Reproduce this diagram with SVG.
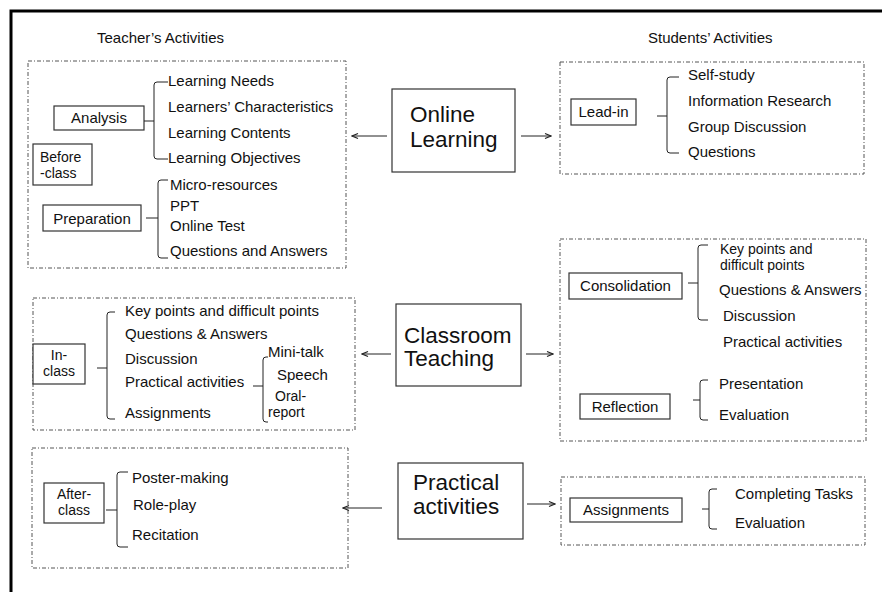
<svg xmlns="http://www.w3.org/2000/svg" width="882" height="592" viewBox="0 0 882 592">
  <style>
    text { font-family: "Liberation Sans", Arial, sans-serif; fill: #111; }
    .t { font-size: 15px; }
    .s { font-size: 14px; }
    .big { font-size: 22.5px; }
    .zone { fill: none; stroke: #555; stroke-width: 1; stroke-dasharray: 4 2 1 2; }
    .box { fill: #fff; stroke: #333; stroke-width: 1.2; }
    .brace { fill: none; stroke: #222; stroke-width: 1; }
    .edge { fill: none; stroke: #222; stroke-width: 1; marker-end: url(#arrow); }
    .frame { fill: none; stroke: #000; stroke-width: 3; }
  </style>
  <defs>
    <marker id="arrow" viewBox="0 0 8 8" refX="7" refY="4" markerWidth="8" markerHeight="8" markerUnits="userSpaceOnUse" orient="auto">
      <path d="M1,1.5 L7,4 L1,6.5" fill="none" stroke="#222" stroke-width="1.2"/>
    </marker>
  </defs>
  <rect width="882" height="592" fill="#fff"/>

  <!-- outer frame (top and left edges) -->
  <path class="frame" d="M11,592 V11 H882"/>

  <!-- column headings -->
  <text class="t" x="97" y="43">Teacher’s Activities</text>
  <text class="t" x="648" y="43">Students’ Activities</text>

  <!-- teacher: before-class -->
  <g id="before-class">
    <rect class="zone" x="28" y="61" width="318" height="207"/>
    <rect class="box" x="33" y="144" width="59" height="41"/>
    <text class="s" x="40" y="162">Before</text>
    <text class="s" x="40" y="178">-class</text>
    <rect class="box" x="54" y="106" width="90" height="24"/>
    <text class="t" x="99" y="123" text-anchor="middle">Analysis</text>
    <path class="brace" d="M144,121 H154 M168,82 H157 Q154,82 154,85 V156 Q154,159 157,159 H168"/>
    <text class="t" x="168" y="86">Learning Needs</text>
    <text class="t" x="168" y="112">Learners’ Characteristics</text>
    <text class="t" x="168" y="138">Learning Contents</text>
    <text class="t" x="168" y="163">Learning Objectives</text>
    <rect class="box" x="43" y="205" width="98" height="26"/>
    <text class="t" x="92" y="224" text-anchor="middle">Preparation</text>
    <path class="brace" d="M146,218 H158 M168,180 H161 Q158,180 158,183 V255 Q158,258 161,258 H168"/>
    <text class="t" x="170" y="190">Micro-resources</text>
    <text class="t" x="170" y="211">PPT</text>
    <text class="t" x="170" y="231">Online Test</text>
    <text class="t" x="170" y="256">Questions and Answers</text>
  </g>

  <!-- centre: online learning -->
  <g id="online-learning">
    <rect class="box" x="392" y="89" width="123" height="83"/>
    <text class="big" x="410" y="122">Online</text>
    <text class="big" x="410" y="147">Learning</text>
  </g>

  <!-- students: lead-in -->
  <g id="lead-in">
    <rect class="zone" x="560" y="62" width="304" height="112"/>
    <rect class="box" x="571" y="99" width="65" height="26"/>
    <text class="t" x="603.5" y="117" text-anchor="middle">Lead-in</text>
    <path class="brace" d="M657,116 H667 M679,77 H670 Q667,77 667,80 V150 Q667,153 670,153 H679"/>
    <text class="t" x="688" y="80">Self-study</text>
    <text class="t" x="688" y="106">Information Research</text>
    <text class="t" x="688" y="132">Group Discussion</text>
    <text class="t" x="688" y="157">Questions</text>
  </g>

  <!-- teacher: in-class -->
  <g id="in-class">
    <rect class="zone" x="33" y="298" width="322" height="132"/>
    <rect class="box" x="33" y="344" width="52" height="40"/>
    <text class="s" x="59" y="360" text-anchor="middle">In-</text>
    <text class="s" x="59" y="376" text-anchor="middle">class</text>
    <path class="brace" d="M97,368 H107 M115,312 H110 Q107,312 107,315 V416 Q107,419 110,419 H115"/>
    <text class="t" x="125" y="316">Key points and difficult points</text>
    <text class="t" x="125" y="339">Questions &amp; Answers</text>
    <text class="t" x="125" y="364">Discussion</text>
    <text class="t" x="125" y="387">Practical activities</text>
    <text class="t" x="125" y="418">Assignments</text>
    <path class="brace" d="M253,386 H263 M268,357 H266 Q263,357 263,360 V419 Q263,422 266,422 H268"/>
    <text class="t" x="268" y="357">Mini-talk</text>
    <text class="t" x="277" y="380">Speech</text>
    <text class="s" x="275" y="401">Oral-</text>
    <text class="s" x="268" y="417">report</text>
  </g>

  <!-- centre: classroom teaching -->
  <g id="classroom-teaching">
    <rect class="box" x="396" y="304" width="125" height="82"/>
    <text class="big" x="404" y="343">Classroom</text>
    <text class="big" x="404" y="366">Teaching</text>
  </g>

  <!-- students: consolidation and reflection -->
  <g id="consolidation">
    <rect class="zone" x="560" y="239" width="306" height="202"/>
    <rect class="box" x="569" y="273" width="113" height="26"/>
    <text class="t" x="625.5" y="291" text-anchor="middle">Consolidation</text>
    <path class="brace" d="M688,283 H698 M708,245 H701 Q698,245 698,248 V317 Q698,320 701,320 H708"/>
    <text class="s" x="720" y="254">Key points and</text>
    <text class="s" x="720" y="270">difficult points</text>
    <text class="t" x="719" y="295">Questions &amp; Answers</text>
    <text class="t" x="723" y="321">Discussion</text>
    <text class="t" x="723" y="347">Practical activities</text>
    <rect class="box" x="580" y="394" width="90" height="25"/>
    <text class="t" x="625" y="412" text-anchor="middle">Reflection</text>
    <path class="brace" d="M693,400 H700 M708,380 H703 Q700,380 700,383 V417 Q700,420 703,420 H708"/>
    <text class="t" x="719" y="389">Presentation</text>
    <text class="t" x="719" y="420">Evaluation</text>
  </g>

  <!-- teacher: after-class -->
  <g id="after-class">
    <rect class="zone" x="32" y="448" width="316" height="120"/>
    <rect class="box" x="44" y="483" width="60" height="40"/>
    <text class="s" x="74" y="499" text-anchor="middle">After-</text>
    <text class="s" x="74" y="515" text-anchor="middle">class</text>
    <path class="brace" d="M106,510 H117 M128,472 H120 Q117,472 117,475 V544 Q117,547 120,547 H128"/>
    <text class="t" x="132" y="483">Poster-making</text>
    <text class="t" x="133" y="510">Role-play</text>
    <text class="t" x="132" y="540">Recitation</text>
  </g>

  <!-- centre: practical activities -->
  <g id="practical-activities">
    <rect class="box" x="398" y="463" width="125" height="76"/>
    <text class="big" x="413" y="490">Practical</text>
    <text class="big" x="413" y="514">activities</text>
  </g>

  <!-- students: assignments -->
  <g id="assignments">
    <rect class="zone" x="561" y="477" width="304" height="68"/>
    <rect class="box" x="570" y="498" width="112" height="24"/>
    <text class="t" x="626" y="515" text-anchor="middle">Assignments</text>
    <path class="brace" d="M702,509 H709 M717,489 H712 Q709,489 709,492 V526 Q709,529 712,529 H717"/>
    <text class="t" x="735" y="499">Completing Tasks</text>
    <text class="t" x="735" y="528">Evaluation</text>
  </g>

  <!-- connectors -->
  <g id="connectors">
    <path class="edge" d="M387,136 H352"/>
    <path class="edge" d="M521,136 H551"/>
    <path class="edge" d="M391,354 H362"/>
    <path class="edge" d="M526,354 H553"/>
    <path class="edge" d="M382,508 H343"/>
    <path class="edge" d="M527,504 H555"/>
  </g>
</svg>
